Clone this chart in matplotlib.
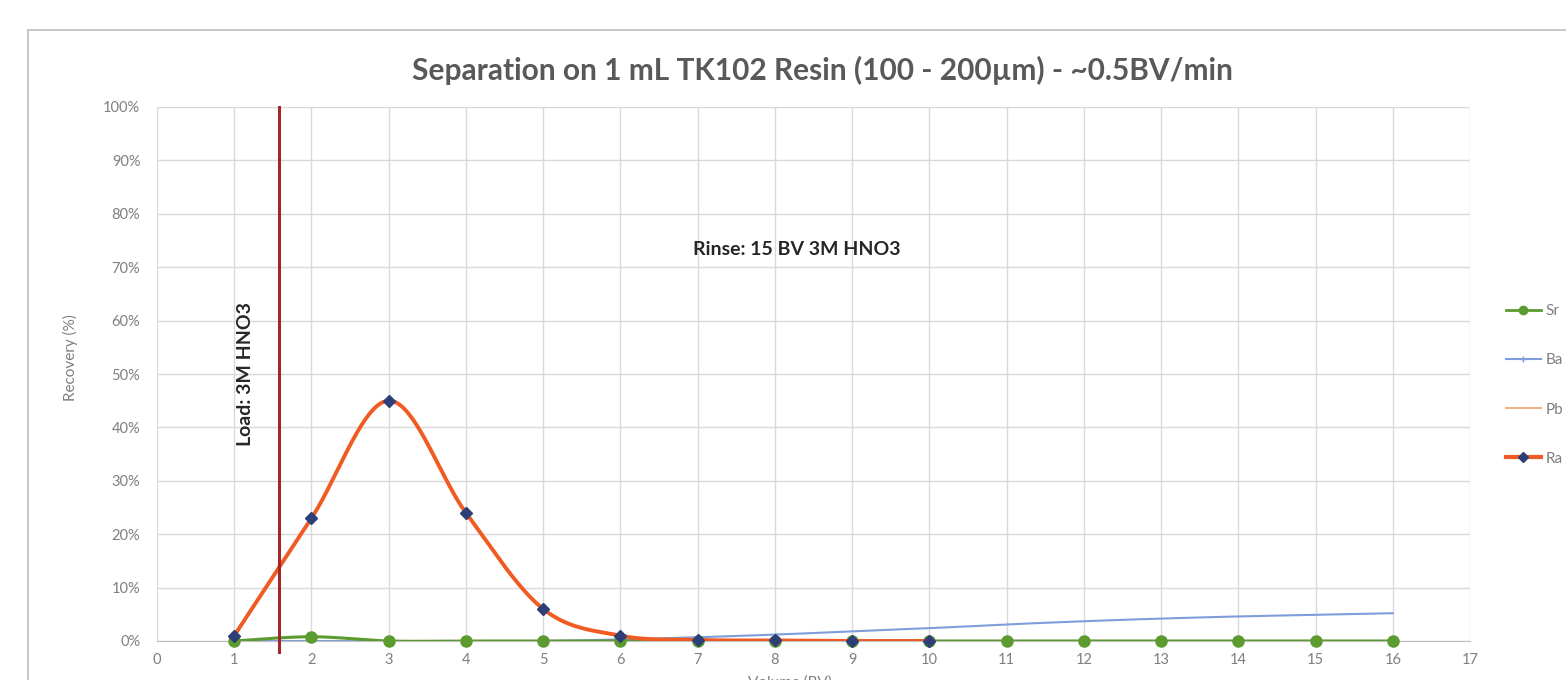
import numpy as np
import matplotlib
matplotlib.use("Agg")
import matplotlib.pyplot as plt
from matplotlib.ticker import FuncFormatter
from matplotlib.lines import Line2D

plt.rcParams['font.family'] = ['Lato', 'DejaVu Sans']

# data (recovery in %)
volume = [1, 2, 3, 4, 5, 6, 7, 8, 9, 10, 11, 12, 13, 14, 15, 16]
sr = [0, 0.8, 0, 0, 0, 0, 0, 0, 0, 0, 0, 0, 0, 0, 0, 0]
ba = [0, 0, 0, 0, 0, 0.3, 0.7, 1.2, 1.8, 2.4, 3.1, 3.7, 4.2, 4.6, 4.9, 5.2]
pb = [0, 0, 0, 0, 0, 0, 0, 0, 0, 0, 0, 0, 0, 0, 0, 0]
ra_volume = [1, 2, 3, 4, 5, 6, 7, 8, 9, 10]
ra = [1, 23, 45, 24, 6, 1, 0.2, 0.1, 0, 0]

load_x = 1.58
title = "Separation on 1 mL TK102 Resin (100 - 200µm) - ~0.5BV/min"


def smooth(x, y, n=40):
    # excel-like smoothed line (catmull-rom as bezier)
    p = np.column_stack([x, y]).astype(float)
    out = [p[0]]
    for i in range(len(p) - 1):
        p0 = p[i - 1] if i > 0 else p[i]
        p1, p2 = p[i], p[i + 1]
        p3 = p[i + 2] if i + 2 < len(p) else p[i + 1]
        c1 = p1 + (p2 - p0) / 6
        c2 = p2 - (p3 - p1) / 6
        t = np.linspace(0, 1, n)[1:, None]
        seg = (1 - t) ** 3 * p1 + 3 * (1 - t) ** 2 * t * c1 + 3 * (1 - t) * t ** 2 * c2 + t ** 3 * p2
        out.extend(seg)
    out = np.array(out)
    return out[:, 0], out[:, 1]


fig = plt.figure(figsize=(15.66, 6.8), dpi=100)
ax = fig.add_axes([157 / 1566, 1 - 641 / 680, (1470 - 157) / 1566, (641 - 107) / 680])

grid_c = '#D9D9D9'
text_c = '#7F7F7F'

c_sr = '#5B9B2F'
c_ba = '#7E9DDA'
c_pb = '#F4B183'
c_ra = '#EF5B22'
c_ra_m = '#2E3F78'

xs, ys = smooth(volume, pb)
ax.plot(xs, ys, color=c_pb, lw=1.5, zorder=3)
xs, ys = smooth(volume, ba)
ax.plot(xs, ys, color=c_ba, lw=1.5, zorder=3)
xs, ys = smooth(volume, sr)
ax.plot(xs, ys, color=c_sr, lw=2.2, zorder=4)
ax.plot(volume, sr, 'o', color=c_sr, ms=8, zorder=5, clip_on=False)
xs, ys = smooth(ra_volume, ra)
ax.plot(xs, ys, color=c_ra, lw=2.8, zorder=6)
ax.plot(ra_volume, ra, 'D', color=c_ra_m, ms=6, zorder=7, clip_on=False)

# load marker line
ax.plot([load_x, load_x], [-2, 100], color='#A3262A', lw=2.2, zorder=8, clip_on=False)

ax.text(1.14, 50, "Load: 3M HNO3", rotation=90, ha='center', va='center',
        fontsize=14, fontweight='bold', color='#262626')
ax.text(6.94, 73.4, "Rinse: 15 BV 3M HNO3", ha='left', va='center',
        fontsize=14, fontweight='bold', color='#262626')

ax.set_xlim(0, 17)
ax.set_ylim(0, 100)
ax.set_xticks(range(0, 18))
ax.set_yticks(range(0, 101, 10))
ax.yaxis.set_major_formatter(FuncFormatter(lambda v, p: f"{v:.0f}%"))
ax.grid(True, color=grid_c, lw=1)
ax.set_axisbelow(True)
for s in ['left', 'top', 'right']:
    ax.spines[s].set_visible(False)
ax.spines['bottom'].set_color('#BFBFBF')
ax.tick_params(length=0, labelsize=10.5, colors=text_c)
ax.tick_params(axis='y', pad=12)
ax.tick_params(axis='x', pad=9)
ax.set_ylabel("Recovery (%)", fontsize=11, color=text_c)
ax.yaxis.set_label_coords(-0.06, 0.53)
ax.set_xlabel("Volume (BV)", fontsize=11, color=text_c)
ax.xaxis.set_label_coords(0.482, -0.064)

fig.text(0.525, 0.897, title, ha='center', va='center', fontsize=21.5,
         fontweight='bold', color='#595959')

# outer chart border
fig.add_artist(Line2D([28 / 1566, 1], [1 - 30 / 680] * 2, color='#BFBFBF', lw=1.2))
fig.add_artist(Line2D([28 / 1566] * 2, [0, 1 - 30 / 680], color='#BFBFBF', lw=1.2))

handles = [
    Line2D([], [], color=c_sr, lw=2, marker='o', ms=6),
    Line2D([], [], color=c_ba, lw=1.5, marker='+', ms=5),
    Line2D([], [], color=c_pb, lw=1.5),
    Line2D([], [], color=c_ra, lw=3, marker='D', ms=5, mfc=c_ra_m, mec=c_ra_m),
]
fig.legend(handles, ["Sr", "Ba", "Pb", "Ra"], loc='center left',
           bbox_to_anchor=(1498 / 1566, 1 - 385 / 680), frameon=False,
           fontsize=11, labelcolor=text_c, labelspacing=2.3,
           handlelength=2.3, handletextpad=0.3, borderpad=0)

fig.savefig("out.png", dpi=100)
